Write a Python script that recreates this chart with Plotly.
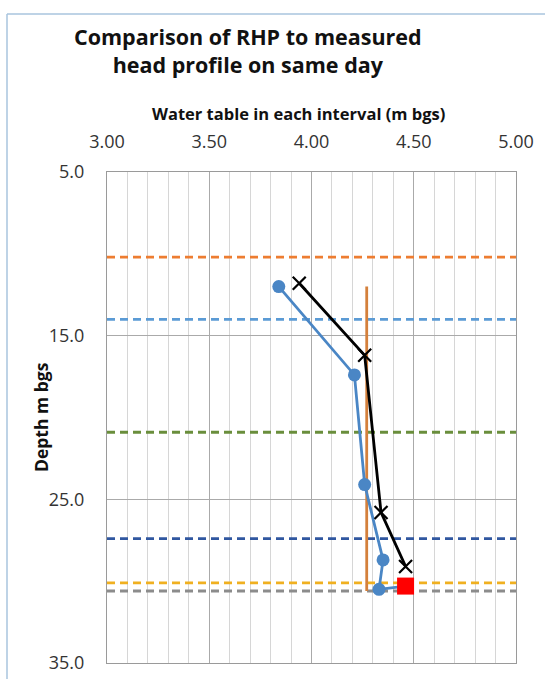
import plotly.graph_objects as go

# ---- data ----
rhp_x = [3.84, 4.21, 4.26, 4.35, 4.33]          # blue circles (water table, m bgs)
rhp_depth = [12.0, 17.4, 24.1, 28.7, 30.5]

meas_x = [3.94, 4.26, 4.34, 4.46]               # black crosses
meas_depth = [11.8, 16.2, 25.8, 29.1]

red_x = [4.46]                                  # red square
red_depth = [30.3]

orange_x = [4.27, 4.27]                          # vertical orange line
orange_depth = [12.0, 30.6]

hline_depths = [10.2, 14.0, 20.9, 27.4, 30.1, 30.6]
hline_colors = ["#ED7D31", "#5B9BD5", "#6A8E3C", "#3057A0", "#F0B020", "#8C8C8C"]

x_ticks = [3.0, 3.5, 4.0, 4.5, 5.0]
y_ticks = [5.0, 15.0, 25.0, 35.0]

FONT = "Open Sans"

fig = go.Figure()

for d, c in zip(hline_depths, hline_colors):
    fig.add_trace(go.Scatter(x=[3.0, 5.0], y=[d, d], mode="lines",
                             line=dict(color=c, width=2.8, dash="8px,5px"),
                             showlegend=False, hoverinfo="skip"))

fig.add_trace(go.Scatter(x=orange_x, y=orange_depth, mode="lines",
                         line=dict(color="#D4803C", width=2.8), showlegend=False))

# blue connector from last circle to red square
fig.add_trace(go.Scatter(x=[rhp_x[-1], red_x[0]], y=[rhp_depth[-1], red_depth[0]], mode="lines",
                         line=dict(color="#4A86C5", width=2.8), showlegend=False))

fig.add_trace(go.Scatter(x=rhp_x, y=rhp_depth, mode="lines+markers",
                         line=dict(color="#4A86C5", width=2.8),
                         marker=dict(symbol="circle", size=13, color="#4A86C5"),
                         showlegend=False))

fig.add_trace(go.Scatter(x=meas_x, y=meas_depth, mode="lines+markers",
                         line=dict(color="#000000", width=2.8),
                         marker=dict(symbol="x-thin", size=13,
                                     line=dict(color="#000000", width=2.2)),
                         showlegend=False))

fig.add_trace(go.Scatter(x=red_x, y=red_depth, mode="markers",
                         marker=dict(symbol="square", size=17, color="#FF0000"),
                         showlegend=False))

L, R, T, B = 107, 516, 172, 663
W, H = 545, 679
pw, ph = R - L, B - T

def px(x):
    return (x - L) / pw

def py(y):
    return (B - y) / ph

fig.update_layout(
    width=W, height=H,
    margin=dict(l=L, r=W - R, t=T, b=H - B, pad=0, autoexpand=False),
    paper_bgcolor="white", plot_bgcolor="white",
    font=dict(family=FONT, color="#222222"),
    xaxis=dict(side="top", range=[3.0, 5.0], tickvals=x_ticks,
               ticktext=[f"{v:.2f}" for v in x_ticks],
               tickfont=dict(size=18, family=FONT, color="#333333"),
               showgrid=True, gridcolor="#AAAAAA", gridwidth=1,
               minor=dict(dtick=0.1, tick0=3.0, showgrid=True, gridcolor="#D6D6D6", gridwidth=1),
               showline=True, linecolor="#9A9A9A", linewidth=1, mirror=True,
               zeroline=False, ticks="", ticklabelstandoff=16, automargin=False),
    yaxis=dict(range=[35.0, 5.0], tickvals=y_ticks,
               ticktext=[f"{v:.1f}" for v in y_ticks],
               tickfont=dict(size=18, family=FONT, color="#333333"),
               showgrid=True, gridcolor="#AAAAAA", gridwidth=1,
               showline=True, linecolor="#9A9A9A", linewidth=1, mirror=True,
               zeroline=False, ticks="", ticklabelstandoff=18, automargin=False),
    annotations=[
        dict(text="<b>Comparison of RHP to measured<br>head profile on same day</b>",
             xref="paper", yref="paper", x=px(248), y=py(50), xanchor="center", yanchor="middle",
             showarrow=False, font=dict(size=21.5, family=FONT, color="#111111")),
        dict(text="<b>Water table in each interval (m bgs)</b>",
             xref="paper", yref="paper", x=px(298), y=py(113), xanchor="center", yanchor="middle",
             showarrow=False, font=dict(size=16.5, family=FONT, color="#111111")),
        dict(text="<b>Depth m bgs</b>", textangle=-90,
             xref="paper", yref="paper", x=px(41), y=py(417), xanchor="center", yanchor="middle",
             showarrow=False, font=dict(size=17.5, family=FONT, color="#111111")),
    ],
    shapes=[
        dict(type="line", xref="paper", yref="paper", x0=px(7), x1=px(560), y0=py(14), y1=py(14),
             line=dict(color="#A9C4DE", width=1.5)),
        dict(type="line", xref="paper", yref="paper", x0=px(7), x1=px(7), y0=py(14), y1=py(700),
             line=dict(color="#A9C4DE", width=1.5)),
    ],
)

fig.write_html("out.html", config={"displayModeBar": False},
               post_script="document.body.style.margin='0';document.body.style.overflow='hidden';")
